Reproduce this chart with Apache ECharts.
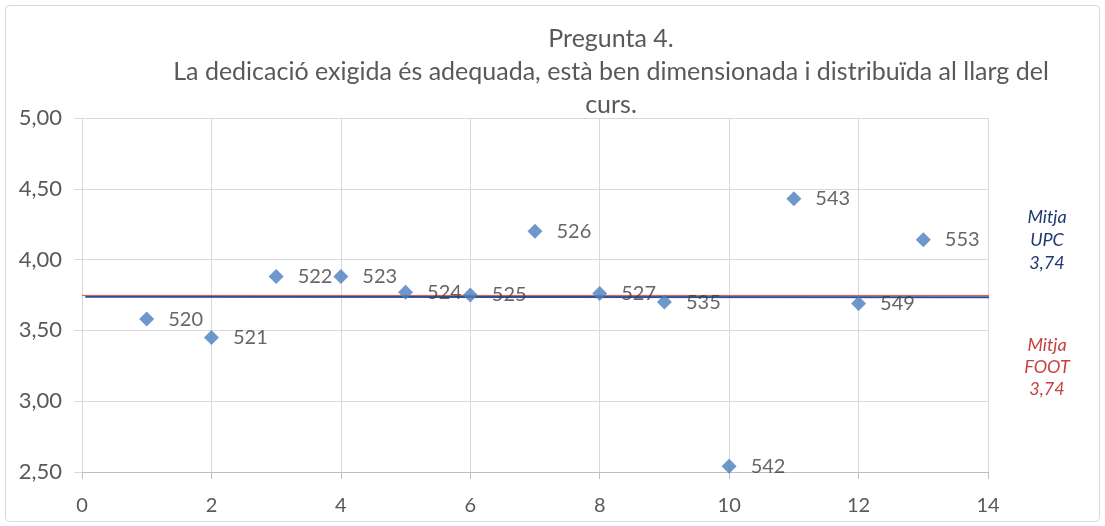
<!DOCTYPE html>
<html>
<head>
<meta charset="utf-8">
<script src="https://cdn.jsdelivr.net/npm/echarts@6/dist/echarts.min.js"></script>
<style>
  html, body { margin: 0; padding: 0; background: #fff; }
  #main { width: 1105px; height: 526px; }
</style>
</head>
<body>
<div id="main"></div>
<script>
// dades de l'enquesta
const titleText = "Pregunta 4.\nLa dedicació exigida és adequada, està ben dimensionada i distribuïda al llarg del\ncurs.";
const pointX = [1, 2, 3, 4, 5, 6, 7, 8, 9, 10, 11, 12, 13];
const pointY = [3.58, 3.45, 3.88, 3.88, 3.77, 3.75, 4.20, 3.76, 3.70, 2.54, 4.43, 3.69, 4.14];
const pointNames = ["520", "521", "522", "523", "524", "525", "526", "527", "535", "542", "543", "549", "553"];
const upcLine = [[0.05, 3.738], [15.27, 3.733]];
const footLine = [[0, 3.747], [15.15, 3.747]];
const upcText = "Mitja\nUPC\n3,74";
const footText = "Mitja\nFOOT\n3,74";

const font = "Lato, 'Open Sans', sans-serif";
const myChart = echarts.init(document.getElementById("main"), null, { renderer: "canvas" });

const scatterData = pointX.map((x, i) => ({ value: [x, pointY[i]], name: pointNames[i] }));

const option = {
  animation: false,
  backgroundColor: "#fff",
  title: {
    text: titleText,
    left: 606,
    top: 17,
    textAlign: "center",
    textStyle: {
      fontFamily: font,
      fontSize: 25,
      fontWeight: "normal",
      color: "#595959",
      lineHeight: 33,
    },
  },
  grid: { left: 82, right: 117, top: 118, bottom: 54 },
  xAxis: {
    type: "value",
    min: 0,
    max: 14,
    interval: 2,
    axisLine: { show: true, lineStyle: { color: "#bfbfbf", width: 1 } },
    axisTick: { show: true, length: 7, lineStyle: { color: "#bfbfbf" } },
    splitLine: { show: true, lineStyle: { color: "#d9d9d9", width: 1 } },
    axisLabel: { margin: 24, fontFamily: font, fontSize: 20, color: "#595959" },
  },
  yAxis: {
    type: "value",
    min: 2.5,
    max: 5,
    interval: 0.5,
    axisLine: { show: false },
    axisTick: { show: true, length: 8, lineStyle: { color: "#d9d9d9" } },
    splitLine: { show: true, lineStyle: { color: "#d9d9d9", width: 1 } },
    axisLabel: {
      margin: 20,
      fontFamily: font,
      fontSize: 22,
      color: "#595959",
      formatter: (v) => v.toFixed(2).replace(".", ","),
    },
  },
  series: [
    {
      type: "line",
      data: upcLine,
      clip: false,
      symbol: "none",
      lineStyle: { color: "#2f4f8f", width: 2 },
      z: 3,
    },
    {
      type: "line",
      data: footLine,
      clip: false,
      symbol: "none",
      lineStyle: { color: "#d45555", width: 1 },
      z: 4,
    },
    {
      type: "scatter",
      data: scatterData,
      symbol: "diamond",
      symbolSize: 15,
      itemStyle: { color: "#4a7dbf" },
      label: {
        show: true,
        position: "right",
        distance: 14,
        formatter: (p) => p.name,
        fontFamily: font,
        fontSize: 20,
        color: "#404040",
      },
      z: 5,
    },
  ],
  graphic: [
    {
      type: "rect",
      shape: { x: 5.5, y: 5.5, width: 1094, height: 516, r: 4 },
      style: { fill: "none", stroke: "#d9d9d9", lineWidth: 1 },
      silent: true,
    },
    {
      type: "text",
      x: 1047,
      y: 206,
      style: {
        text: upcText,
        fill: "#1f3870",
        fontFamily: font,
        fontStyle: "italic",
        fontSize: 18,
        lineHeight: 23,
        align: "center",
        textAlign: "center",
      },
    },
    {
      type: "text",
      x: 1047,
      y: 334,
      style: {
        text: footText,
        fill: "#c9413f",
        fontFamily: font,
        fontStyle: "italic",
        fontSize: 18,
        lineHeight: 22,
        align: "center",
        textAlign: "center",
      },
    },
  ],
};

option && myChart.setOption(option);
</script>
</body>
</html>
